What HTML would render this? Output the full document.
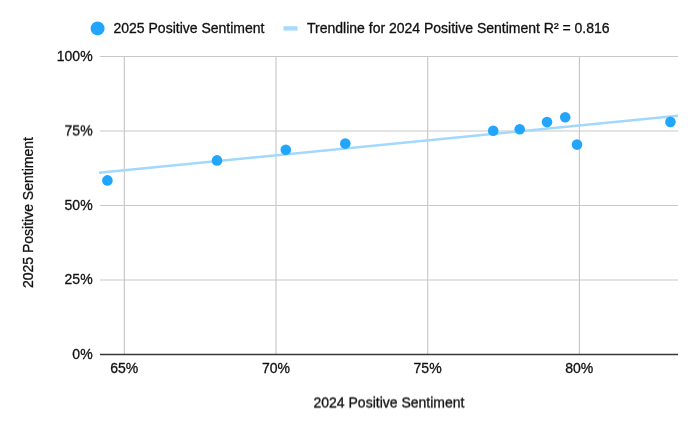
<!DOCTYPE html>
<html><head><meta charset="utf-8">
<style>
html,body{margin:0;padding:0;background:#fff;}
body{width:700px;height:432px;overflow:hidden;}
svg{display:block;will-change:transform;}
text{font-family:"Liberation Sans",Arial,sans-serif;font-size:14px;fill:#111;stroke:#111;stroke-width:0.3px;}
</style></head><body>
<svg width="700" height="432" viewBox="0 0 700 432">
<defs>
<filter id="dn5" x="-5%" y="-50%" width="110%" height="200%"><feConvolveMatrix order="1 3" kernelMatrix="0 0.5 0.5" divisor="1"/></filter>
</defs>
<rect width="700" height="432" fill="#fff"/>
<!-- legend -->
<circle cx="97.6" cy="28.4" r="7" fill="#22a6fd"/>
<text x="113.5" y="32.7">2025 Positive Sentiment</text>
<rect x="283.5" y="26.2" width="14" height="4.4" fill="#a7dafd"/>
<text x="307" y="32.7">Trendline for 2024 Positive Sentiment R² = 0.816</text>
<!-- gridlines -->
<g stroke="#c8c8c8" stroke-width="1.17" fill="none">
<line x1="100" y1="56.5" x2="678" y2="56.5"/>
<line x1="100" y1="131" x2="678" y2="131"/>
<line x1="100" y1="205.5" x2="678" y2="205.5"/>
<line x1="100" y1="280" x2="678" y2="280"/>
<line x1="124.35" y1="56" x2="124.35" y2="354"/>
<line x1="276" y1="56" x2="276" y2="354"/>
<line x1="427.7" y1="56" x2="427.7" y2="354"/>
<line x1="579.4" y1="56" x2="579.4" y2="354"/>
</g>
<line x1="100" y1="354.5" x2="678" y2="354.5" stroke="#383838" stroke-width="1.3"/>
<!-- trendline -->
<line x1="99" y1="172.7" x2="678" y2="115.8" stroke="#a3d8fd" stroke-width="2.4"/>
<!-- dots -->
<g fill="#22a6fd">
<circle cx="107.4" cy="180.4" r="5.3"/>
<circle cx="217.0" cy="160.4" r="5.3"/>
<circle cx="285.8" cy="149.7" r="5.3"/>
<circle cx="345.3" cy="143.6" r="5.3"/>
<circle cx="493.2" cy="130.7" r="5.3"/>
<circle cx="519.7" cy="129.2" r="5.3"/>
<circle cx="547.0" cy="122.1" r="5.3"/>
<circle cx="565.2" cy="117.3" r="5.3"/>
<circle cx="577.0" cy="144.6" r="5.3"/>
<circle cx="670.4" cy="121.9" r="5.3"/>
</g>
<!-- y labels -->
<g text-anchor="end">
<text x="92.6" y="60.7">100%</text>
<text x="92.6" y="135" filter="url(#dn5)">75%</text>
<text x="92.6" y="209.7">50%</text>
<text x="92.6" y="284.2">25%</text>
<text x="92.6" y="358.7">0%</text>
</g>
<!-- x labels -->
<g text-anchor="middle">
<text x="124.3" y="373">65%</text>
<text x="276" y="373">70%</text>
<text x="427.6" y="373">75%</text>
<text x="579.3" y="373">80%</text>
<text x="389" y="407" filter="url(#dn5)">2024 Positive Sentiment</text>
</g>
<text transform="translate(33,212.6) rotate(-90)" text-anchor="middle">2025 Positive Sentiment</text>
</svg>
</body></html>
